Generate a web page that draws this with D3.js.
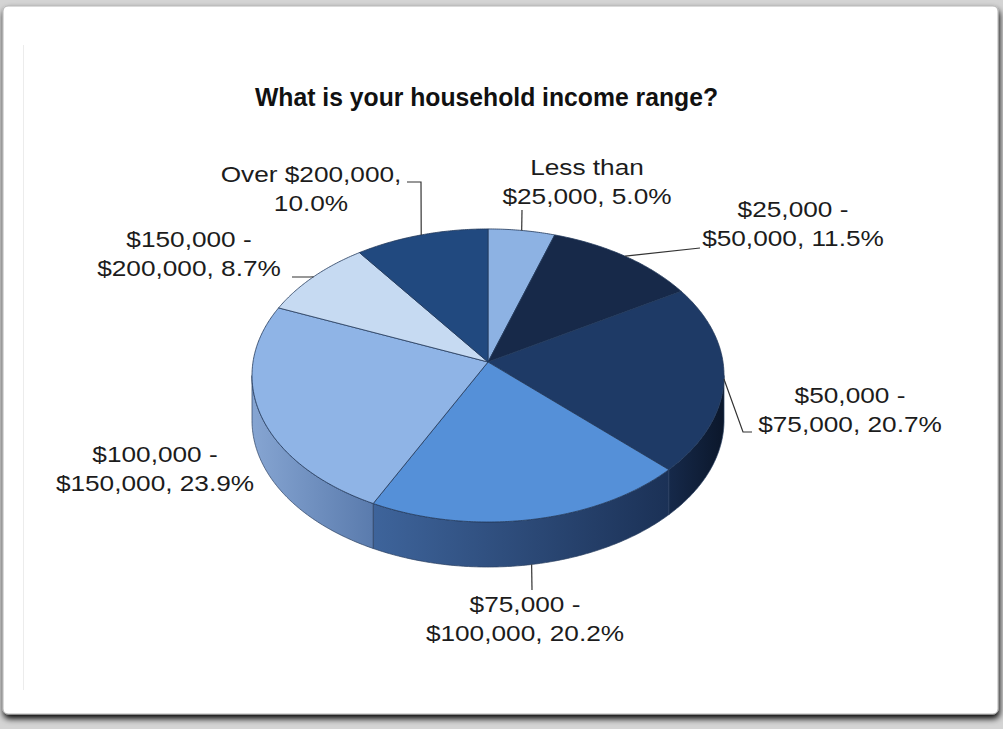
<!DOCTYPE html>
<html>
<head>
<meta charset="utf-8">
<script src="https://cdn.jsdelivr.net/npm/d3@7"></script>
<style>
  html, body { margin: 0; padding: 0; background: #d4d4d4; }
  svg { display: block; }
</style>
</head>
<body>
<script>
// chart data
const title = "What is your household income range?";
const labelHeads = ["Less than", "$25,000 -", "$50,000 -", "$75,000 -", "$100,000 -", "$150,000 -", "Over $200,000,"];
const labelTails = ["$25,000", "$50,000", "$75,000", "$100,000", "$150,000", "$200,000", ""];
const shares = [5.0, 11.5, 20.7, 20.2, 23.9, 8.7, 10.0];

const topColors = ["#8db2e3", "#172949", "#1e3a66", "#5590d8", "#8fb4e6", "#c6daf2", "#21497f"];
const wallColors = [
  ["#8db2e3", "#6a8dc0"],
  ["#172949", "#0f1d35"],
  ["#16294a", "#0b172b"],
  ["#3e649b", "#1b3156"],
  ["#86a5d2", "#5a7bad"],
  ["#c6daf2", "#9db6d6"],
  ["#21497f", "#163560"]
];

// label layout: centre x, first baseline, and leader elbows (null = none)
const labelPlace = [
  { x: 587, y: 175, leader: [[522, 210]] },
  { x: 793, y: 217, leader: [[700, 248]] },
  { x: 850, y: 403, leader: [[743, 432], [752, 432]] },
  { x: 525, y: 612, leader: [[532, 590]] },
  { x: 155, y: 462, leader: null },
  { x: 189, y: 247, leader: [[310, 277], [292, 277]] },
  { x: 311, y: 182, leader: [[421, 182], [407, 182]] }
];

const width = 1003, height = 729;
const CX = 488, CY = 362, RX = 235, RY = 145.3, K = 0.092, DEPTH = 45;

const svg = d3.select("body").append("svg")
  .attr("width", width)
  .attr("height", height);

const defs = svg.append("defs");
const shadow = defs.append("filter").attr("id", "shade")
  .attr("x", "-5%").attr("y", "-5%").attr("width", "110%").attr("height", "115%");
shadow.append("feGaussianBlur").attr("in", "SourceAlpha").attr("stdDeviation", 3);
shadow.append("feOffset").attr("dx", 1).attr("dy", 4).attr("result", "b");
const merge = shadow.append("feMerge");
merge.append("feMergeNode").attr("in", "b");
merge.append("feMergeNode").attr("in", "SourceGraphic");

// page frame
svg.append("rect")
  .attr("x", 3).attr("y", 6)
  .attr("width", 995).attr("height", 708)
  .attr("rx", 5)
  .attr("fill", "#fff")
  .attr("stroke", "#b5b5b5")
  .attr("stroke-width", 1)
  .attr("filter", "url(#shade)");

svg.append("line")
  .attr("x1", 23.5).attr("x2", 23.5)
  .attr("y1", 45).attr("y2", 690)
  .attr("stroke", "#ececec");

svg.append("text")
  .attr("x", 255).attr("y", 106)
  .attr("textLength", 463)
  .attr("lengthAdjust", "spacingAndGlyphs")
  .style("font-family", "'Liberation Sans Narrow', 'Liberation Sans', Arial, sans-serif")
  .style("font-weight", "bold")
  .style("font-size", "25px")
  .attr("fill", "#111")
  .text(title);

// perspective projection of the unit circle onto the page
function proj(theta, drop) {
  const s = Math.sin(theta), c = Math.cos(theta);
  const d = 1 + K * c;
  return [CX + RX * s / d, CY - RY * c / d + (drop || 0)];
}

function arcPoints(a0, a1, drop) {
  const n = Math.max(2, Math.ceil(Math.abs(a1 - a0) / 0.01));
  return d3.range(n + 1).map(i => proj(a0 + (a1 - a0) * i / n, drop));
}

const arcs = d3.pie().sort(null).startAngle(0).endAngle(2 * Math.PI)(shares);

const thetaR = Math.acos(-K), thetaL = 2 * Math.PI - Math.acos(-K);
const line = d3.line();

// outer walls (front half only)
const wallG = svg.append("g");
arcs.forEach((a, i) => {
  const lo = Math.max(a.startAngle, thetaR), hi = Math.min(a.endAngle, thetaL);
  if (hi <= lo) return;
  const g = defs.append("linearGradient").attr("id", "wall" + i)
    .attr("x1", 0).attr("x2", 1).attr("y1", 0).attr("y2", 0);
  g.append("stop").attr("offset", "0%").attr("stop-color", wallColors[i][0]);
  g.append("stop").attr("offset", "100%").attr("stop-color", wallColors[i][1]);
  const pts = arcPoints(lo, hi, 0).concat(arcPoints(hi, lo, DEPTH));
  wallG.append("path")
    .attr("d", line(pts) + "Z")
    .attr("fill", `url(#wall${i})`)
    .attr("stroke", "#2a3f60")
    .attr("stroke-width", 0.7)
    .attr("stroke-linejoin", "round");
});

// top faces
const topG = svg.append("g");
arcs.forEach((a, i) => {
  const pts = [[CX, CY]].concat(arcPoints(a.startAngle, a.endAngle, 0));
  topG.append("path")
    .attr("d", line(pts) + "Z")
    .attr("fill", topColors[i])
    .attr("stroke", "#22385a")
    .attr("stroke-width", 0.8)
    .attr("stroke-linejoin", "round");
});

// labels and leaders
const labG = svg.append("g")
  .style("font-family", "'Liberation Sans', Arial, sans-serif")
  .style("font-size", "21.5px")
  .attr("fill", "#1c1c1c");

arcs.forEach((a, i) => {
  const p = labelPlace[i];
  const mid = (a.startAngle + a.endAngle) / 2;
  const line2 = labelTails[i] ? `${labelTails[i]}, ${shares[i].toFixed(1)}%` : `${shares[i].toFixed(1)}%`;
  [labelHeads[i], line2].forEach((t, j) => {
    labG.append("text")
      .attr("transform", `translate(${p.x},${p.y + j * 29}) scale(1.22,1)`)
      .attr("text-anchor", "middle")
      .text(t);
  });
  if (p.leader) {
    const front = Math.cos(mid) < -0.5;
    const start = proj(mid, front ? DEPTH : 0);
    svg.append("path")
      .attr("d", line([start].concat(p.leader)))
      .attr("fill", "none")
      .attr("stroke", "#333")
      .attr("stroke-width", 1.2);
  }
});
</script>
</body>
</html>
